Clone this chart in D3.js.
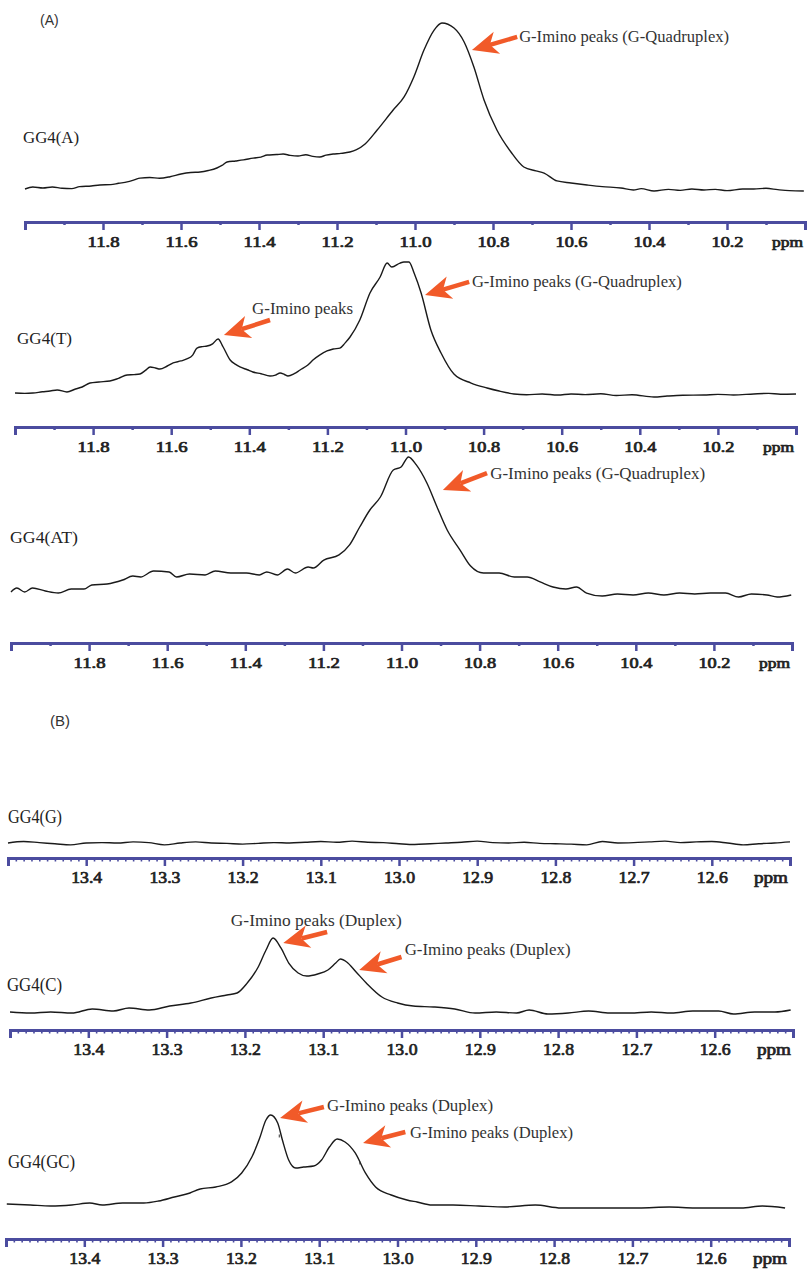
<!DOCTYPE html>
<html>
<head>
<meta charset="utf-8">
<script src="https://cdn.jsdelivr.net/npm/d3@7"></script>
<style>
  body { margin: 0; background: #fff; }
  svg { display: block; }
</style>
</head>
<body>
<div id="container"></div>
<script>
// spectra: [ppm, intensity] (peak of each trace ~ 100)
var gg4A = [
  [12.000,0.6],[11.980,1.8],[11.954,1.2],[11.930,1.8],[11.905,1.0],[11.880,0.8],[11.860,2.0],[11.830,2.4],
  [11.808,3.0],[11.780,3.2],[11.760,4.0],[11.738,4.8],[11.720,6.0],[11.705,7.1],[11.680,7.4],[11.655,7.0],
  [11.628,7.9],[11.600,9.5],[11.575,10.4],[11.551,10.7],[11.530,11.6],[11.508,13.1],[11.495,14.6],[11.482,16.7],
  [11.460,17.3],[11.440,17.9],[11.415,19.0],[11.395,19.6],[11.379,20.8],[11.355,21.1],[11.338,21.4],[11.320,20.6],
  [11.300,20.2],[11.280,21.0],[11.262,20.0],[11.244,19.6],[11.228,20.8],[11.210,21.4],[11.190,21.8],[11.167,22.6],
  [11.150,24.0],[11.128,27.4],[11.097,35.7],[11.056,47.6],[11.028,55.4],[11.003,67.3],[10.977,83.3],[10.951,95.2],
  [10.931,99.4],[10.900,96.4],[10.874,88.1],[10.849,73.2],[10.823,53.6],[10.790,35.7],[10.754,22.6],[10.721,13.7],
  [10.690,11.4],[10.669,10.1],[10.636,5.4],[10.600,4.2],[10.559,3.0],[10.520,2.0],[10.472,1.2],[10.440,0.0],
  [10.420,0.8],[10.387,-0.6],[10.350,0.4],[10.320,-0.2],[10.290,0.6],[10.259,0.0],[10.230,0.4],[10.200,-0.4],
  [10.160,0.6],[10.131,0.6],[10.100,1.0],[10.070,0.2],[10.040,-0.4],[10.003,-0.6]
];
var gg4T = [
  [12.000,1.5],[11.975,1.2],[11.954,1.5],[11.930,2.4],[11.910,3.0],[11.892,3.8],[11.867,2.3],[11.845,4.5],
  [11.828,6.0],[11.808,9.0],[11.785,9.8],[11.757,10.5],[11.735,12.5],[11.713,15.0],[11.695,15.3],[11.680,15.8],
  [11.666,18.5],[11.654,21.1],[11.640,20.3],[11.629,19.5],[11.610,21.8],[11.595,24.1],[11.575,25.6],[11.560,27.1],
  [11.545,30.0],[11.534,35.3],[11.520,36.4],[11.508,36.8],[11.494,38.5],[11.480,42.1],[11.467,36.1],[11.449,26.3],
  [11.435,23.0],[11.424,21.1],[11.405,19.0],[11.391,17.3],[11.370,16.0],[11.347,14.3],[11.333,15.0],[11.321,16.5],
  [11.310,15.4],[11.301,14.3],[11.285,16.0],[11.270,18.8],[11.250,22.5],[11.237,26.3],[11.220,30.0],[11.201,33.1],
  [11.185,34.6],[11.168,35.3],[11.155,39.0],[11.142,43.6],[11.117,56.4],[11.091,76.7],[11.065,88.7],[11.047,99.2],
  [11.035,96.2],[11.014,99.2],[11.004,100],[10.991,100],[10.978,91.7],[10.960,76.7],[10.935,48.9],[10.909,31.6],
  [10.876,15.8],[10.832,9.0],[10.791,5.3],[10.760,3.0],[10.722,0.8],[10.690,0.2],[10.650,0.8],[10.610,0.0],
  [10.576,0.8],[10.540,0.3],[10.500,0.9],[10.460,-0.4],[10.420,0.2],[10.364,-1.5],[10.330,-0.8],[10.290,-0.2],
  [10.236,0.0],[10.200,0.5],[10.160,0.0],[10.108,0.8],[10.070,1.2],[10.040,0.6],[10.000,0.8]
];
var gg4AT = [
  [12.000,1.5],[11.985,4.4],[11.965,1.5],[11.945,4.4],[11.912,2.2],[11.879,0.7],[11.846,3.6],[11.813,3.6],
  [11.793,6.6],[11.754,7.3],[11.714,10.2],[11.688,13.1],[11.668,12.4],[11.635,16.8],[11.595,16.1],[11.576,12.4],
  [11.543,14.6],[11.503,13.9],[11.477,16.8],[11.437,15.3],[11.397,15.3],[11.364,13.9],[11.345,16.1],[11.318,13.9],
  [11.292,18.2],[11.272,15.3],[11.239,19.7],[11.226,19.0],[11.199,24.8],[11.160,28.5],[11.133,35.8],[11.107,48.9],
  [11.081,61.3],[11.054,70.8],[11.021,90.5],[11.001,92.7],[10.982,100],[10.962,94.2],[10.935,81.0],[10.909,63.5],
  [10.883,46.7],[10.850,32.1],[10.823,20.4],[10.790,15.3],[10.750,15.3],[10.711,12.4],[10.678,12.4],[10.645,8.8],
  [10.612,5.1],[10.579,3.6],[10.552,5.1],[10.526,0.7],[10.486,-1.5],[10.447,0],[10.407,-0.7],[10.368,0.7],
  [10.328,-0.7],[10.288,0.7],[10.249,0],[10.209,0.7],[10.170,0.7],[10.137,-2.2],[10.104,0],[10.064,-0.7],
  [10.038,-2.2],[10.002,-0.7]
];
var gg4G = [
  [13.50,0],[13.48,2],[13.46,0.5],[13.44,-1],[13.42,-2.5],[13.40,0],[13.38,0.5],[13.36,0],[13.34,1.5],
  [13.32,0.5],[13.30,-2.5],[13.28,0],[13.26,1.5],[13.24,0],[13.22,-0.5],[13.20,-1.5],[13.18,-0.5],[13.16,0.5],
  [13.14,0],[13.12,1],[13.10,2],[13.08,1],[13.06,2.5],[13.04,1],[13.02,0.5],[13.00,-1],[12.98,-2],[12.96,-1],
  [12.94,0],[12.92,1],[12.90,2.5],[12.88,0.5],[12.86,0],[12.84,1],[12.82,-0.5],[12.80,-1],[12.78,-1.5],
  [12.76,-2.5],[12.74,2],[12.72,0],[12.70,0.5],[12.68,1.5],[12.66,2.5],[12.64,0.5],[12.62,1.5],[12.60,2],
  [12.58,0],[12.56,-2.5],[12.54,-1],[12.52,0],[12.50,1.5]
];
var gg4C = [
  [13.500,0],[13.474,-1.4],[13.448,0],[13.421,-1.4],[13.395,4.1],[13.368,1.4],[13.348,5.4],[13.322,2.7],
  [13.296,8.1],[13.269,12.2],[13.243,18.9],[13.223,23.0],[13.210,25.7],[13.197,39.2],[13.183,60.8],[13.173,83.8],
  [13.164,100],[13.154,86.5],[13.144,66.2],[13.132,52.7],[13.121,48.6],[13.107,51.4],[13.094,56.8],[13.084,66.2],
  [13.078,71.6],[13.070,67.6],[13.058,54.1],[13.045,39.2],[13.025,20.3],[13.005,12.2],[12.985,8.1],[12.959,6.8],
  [12.932,4.1],[12.906,-1.4],[12.879,0],[12.853,-1.4],[12.837,2.7],[12.813,-2.7],[12.787,-1.4],[12.761,1.4],
  [12.734,-1.4],[12.708,-1.4],[12.681,0],[12.655,-1.4],[12.628,1.4],[12.595,1.4],[12.576,-2.7],[12.549,0],
  [12.523,0],[12.503,2.7]
];
var gg4GC = [
  [13.499,1.1],[13.469,0],[13.443,-1.1],[13.416,0],[13.393,2.2],[13.377,0],[13.351,2.2],[13.324,2.2],
  [13.305,4.4],[13.285,8.9],[13.265,13.3],[13.252,17.8],[13.232,20.0],[13.212,25.6],[13.199,35.6],[13.186,53.3],
  [13.176,74.4],[13.168,94.4],[13.162,100],[13.153,91.1],[13.147,72.2],[13.139,50.0],[13.130,41.1],[13.120,42.2],
  [13.107,43.3],[13.097,50.0],[13.087,64.4],[13.077,73.3],[13.067,70.0],[13.054,57.8],[13.041,35.6],[13.028,20.0],
  [13.008,11.1],[12.988,5.6],[12.975,3.3],[12.956,0],[12.929,0],[12.896,-1.1],[12.863,-2.2],[12.824,0],
  [12.791,-3.3],[12.758,-3.3],[12.725,-3.3],[12.692,-3.3],[12.653,-2.2],[12.620,-3.3],[12.587,-3.3],[12.561,-3.3],
  [12.534,-1.1],[12.505,-3.3]
];
var specksGC = [[13.151,76.7],[13.048,46.7]];

// tick labels
var ticksA = [11.8, 11.6, 11.4, 11.2, 11.0, 10.8, 10.6, 10.4, 10.2];
var minorA = [11.9, 11.7, 11.5, 11.3, 11.1, 10.9, 10.7, 10.5, 10.3, 10.1];
var ticksB = [13.4, 13.3, 13.2, 13.1, 13.0, 12.9, 12.8, 12.7, 12.6];

// annotations: arrow tip / tail and text start in [ppm, intensity]
var notesA = [{text: "G-Imino peaks (G-Quadruplex)", tip: [10.854, 83.3], tail: [10.738, 91.1], at: [10.733, 91.1], w: 210}];
var notesT = [
  {text: "G-Imino peaks", tip: [11.465, 45.1], tail: [11.347, 56.4], at: [11.393, 65.4], w: 101},
  {text: "G-Imino peaks (G-Quadruplex)", tip: [10.950, 75.2], tail: [10.837, 85.0], at: [10.830, 85.0], w: 210}
];
var notesAT = [{text: "G-Imino peaks (G-Quadruplex)", tip: [10.894, 75.9], tail: [10.781, 88.3], at: [10.773, 88.3], w: 215}];
var notesC = [
  {text: "G-Imino peaks (Duplex)", tip: [13.151, 93.2], tail: [13.095, 108.1], at: [13.218, 124.3], w: 171},
  {text: "G-Imino peaks (Duplex)", tip: [13.054, 56.8], tail: [13.000, 74.3], at: [12.996, 83.8], w: 166}
];
var notesGC = [
  {text: "G-Imino peaks (Duplex)", tip: [13.150, 96.7], tail: [13.094, 108.9], at: [13.090, 111.1], w: 166},
  {text: "G-Imino peaks (Duplex)", tip: [13.044, 68.9], tail: [12.990, 81.1], at: [12.984, 81.1], w: 163}
];

var width = 808, height = 1272;
var axisColor = "#4b4c9f";
var arrowColor = "#f15a29";
var serif = "Liberation Serif, Times New Roman, serif";
var sans = "Liberation Sans, Arial, sans-serif";

var minorB = d3.range(1250, 1351).map(function(d) { return d / 100; })
  .filter(function(d) { return Math.round(d * 100) % 10 !== 0; });

var panels = [
  {name: "GG4(A)", data: gg4A, domain: [12, 10], x0: 25, x1: 805, axisY: 222, yBase: 190, yTop: 22,
   set: "A", nameX: 23, nameY: 137, nameW: 56, notes: notesA},
  {name: "GG4(T)", data: gg4T, domain: [12, 10], x0: 15, x1: 796, axisY: 427, yBase: 395, yTop: 262,
   set: "A", nameX: 17, nameY: 338, nameW: 55, notes: notesT},
  {name: "GG4(AT)", data: gg4AT, domain: [12, 10], x0: 11, x1: 792, axisY: 643, yBase: 594, yTop: 457,
   set: "A", nameX: 10, nameY: 537, nameW: 68, notes: notesAT},
  {name: "GG4(G)", data: gg4G, domain: [13.5, 12.5], x0: 8, x1: 790, axisY: 858, yBase: 843, yTop: 769,
   set: "B", nameX: 8, nameY: 817, nameW: 54, notes: []},
  {name: "GG4(C)", data: gg4C, domain: [13.5, 12.5], x0: 10, x1: 793, axisY: 1030, yBase: 1012, yTop: 938,
   set: "B", nameX: 7, nameY: 985, nameW: 55, notes: notesC},
  {name: "GG4(GC)", data: gg4GC, domain: [13.5, 12.5], x0: 6, x1: 789, axisY: 1239, yBase: 1205, yTop: 1115,
   set: "B", nameX: 8, nameY: 1162, nameW: 67, notes: notesGC, specks: specksGC}
];

var svg = d3.select("#container").append("svg")
  .attr("width", width).attr("height", height);

svg.append("text").attr("x", 40).attr("y", 20).attr("dominant-baseline", "central")
  .style("font-family", sans).attr("font-size", 14).attr("fill", "#333").text("(A)");
svg.append("text").attr("x", 50).attr("y", 720).attr("dominant-baseline", "central")
  .style("font-family", sans).attr("font-size", 15).attr("fill", "#333")
  .attr("textLength", 20).attr("lengthAdjust", "spacingAndGlyphs").text("(B)");

function drawArrow(g, tx, ty, sx, sy) {
  var dx = sx - tx, dy = sy - ty;
  var len = Math.sqrt(dx * dx + dy * dy);
  var ux = dx / len, uy = dy / len;
  var px = -uy, py = ux;
  var L = 26, W = 11.5;
  var bx = tx + ux * L, by = ty + uy * L;
  var nx = tx + ux * L * 0.72, ny = ty + uy * L * 0.72;
  g.append("line")
    .attr("x1", nx).attr("y1", ny).attr("x2", sx).attr("y2", sy)
    .attr("stroke", arrowColor).attr("stroke-width", 4.5);
  g.append("path")
    .attr("d", "M" + tx + "," + ty +
      "L" + (bx + px * W) + "," + (by + py * W) +
      "L" + nx + "," + ny +
      "L" + (bx - px * W) + "," + (by - py * W) + "Z")
    .attr("fill", arrowColor);
}

// bold serif figures (stroke thickens the regular face)
function boldSerif(sel, fs, len) {
  sel.style("font-family", serif).style("font-weight", "normal").style("font-size", fs + "px")
    .attr("fill", "#222").attr("stroke", "#222").attr("stroke-width", 0.7)
    .attr("textLength", len).attr("lengthAdjust", "spacingAndGlyphs");
}

panels.forEach(function(p) {
  var x = d3.scaleLinear().domain(p.domain).range([p.x0, p.x1]);
  var y = d3.scaleLinear().domain([0, 100]).range([p.yBase, p.yTop]);
  var g = svg.append("g").attr("class", "panel");
  var isA = p.set === "A";
  var fs = isA ? 14 : 16;

  // minor ticks
  var gMinor = g.append("g")
    .attr("transform", "translate(0," + p.axisY + ")")
    .call(d3.axisBottom(x).tickValues(isA ? minorA : minorB)
      .tickSize(isA ? 3 : 3.5).tickSizeOuter(0).tickFormat(""));
  gMinor.select(".domain").remove();
  gMinor.selectAll(".tick line").attr("stroke", axisColor).attr("stroke-width", isA ? 2.5 : 1.6);

  // major ticks + labels
  var gMajor = g.append("g")
    .attr("transform", "translate(0," + p.axisY + ")")
    .call(d3.axisBottom(x).tickValues(isA ? ticksA : ticksB)
      .tickSize(8).tickSizeOuter(8).tickPadding(isA ? 7 : 6).tickFormat(d3.format(".1f")));
  gMajor.attr("font-family", null).attr("font-size", null);
  gMajor.select(".domain").attr("stroke", axisColor).attr("stroke-width", 3);
  gMajor.selectAll(".tick line").attr("stroke", axisColor).attr("stroke-width", 2.5);
  boldSerif(gMajor.selectAll(".tick text"), fs, isA ? 32 : 31);

  var ppm = g.append("text")
    .attr("x", p.x1 - 2).attr("y", p.axisY + 8 + (isA ? 7 : 6)).attr("dy", "0.71em")
    .attr("text-anchor", "end")
    .text("ppm");
  boldSerif(ppm, fs, isA ? 31 : 34);

  // trace
  var line = d3.line()
    .curve(d3.curveMonotoneX)
    .x(function(d) { return x(d[0]); })
    .y(function(d) { return y(d[1]); });
  g.append("path").datum(p.data)
    .attr("d", line)
    .attr("fill", "none").attr("stroke", "#1a1a1a").attr("stroke-width", 1.4)
    .attr("stroke-linejoin", "round");

  if (p.specks) {
    g.selectAll(".speck").data(p.specks).enter().append("line")
      .attr("x1", function(d) { return x(d[0]); }).attr("x2", function(d) { return x(d[0]); })
      .attr("y1", function(d) { return y(d[1]) - 1.5; }).attr("y2", function(d) { return y(d[1]) + 1.5; })
      .attr("stroke", "#333").attr("stroke-width", 1);
  }

  // sample label
  g.append("text")
    .attr("x", p.nameX).attr("y", p.nameY).attr("dominant-baseline", "central")
    .style("font-family", serif).style("font-size", (isA ? 17 : 18) + "px").attr("fill", "#222")
    .attr("textLength", p.nameW).attr("lengthAdjust", "spacingAndGlyphs")
    .text(p.name);

  // annotations
  p.notes.forEach(function(n) {
    drawArrow(g, x(n.tip[0]), y(n.tip[1]), x(n.tail[0]), y(n.tail[1]));
    g.append("text")
      .attr("x", x(n.at[0])).attr("y", y(n.at[1])).attr("dominant-baseline", "central")
      .style("font-family", serif).style("font-size", "17px").attr("fill", "#333")
      .attr("textLength", n.w).attr("lengthAdjust", "spacingAndGlyphs")
      .text(n.text);
  });
});
</script>
</body>
</html>
